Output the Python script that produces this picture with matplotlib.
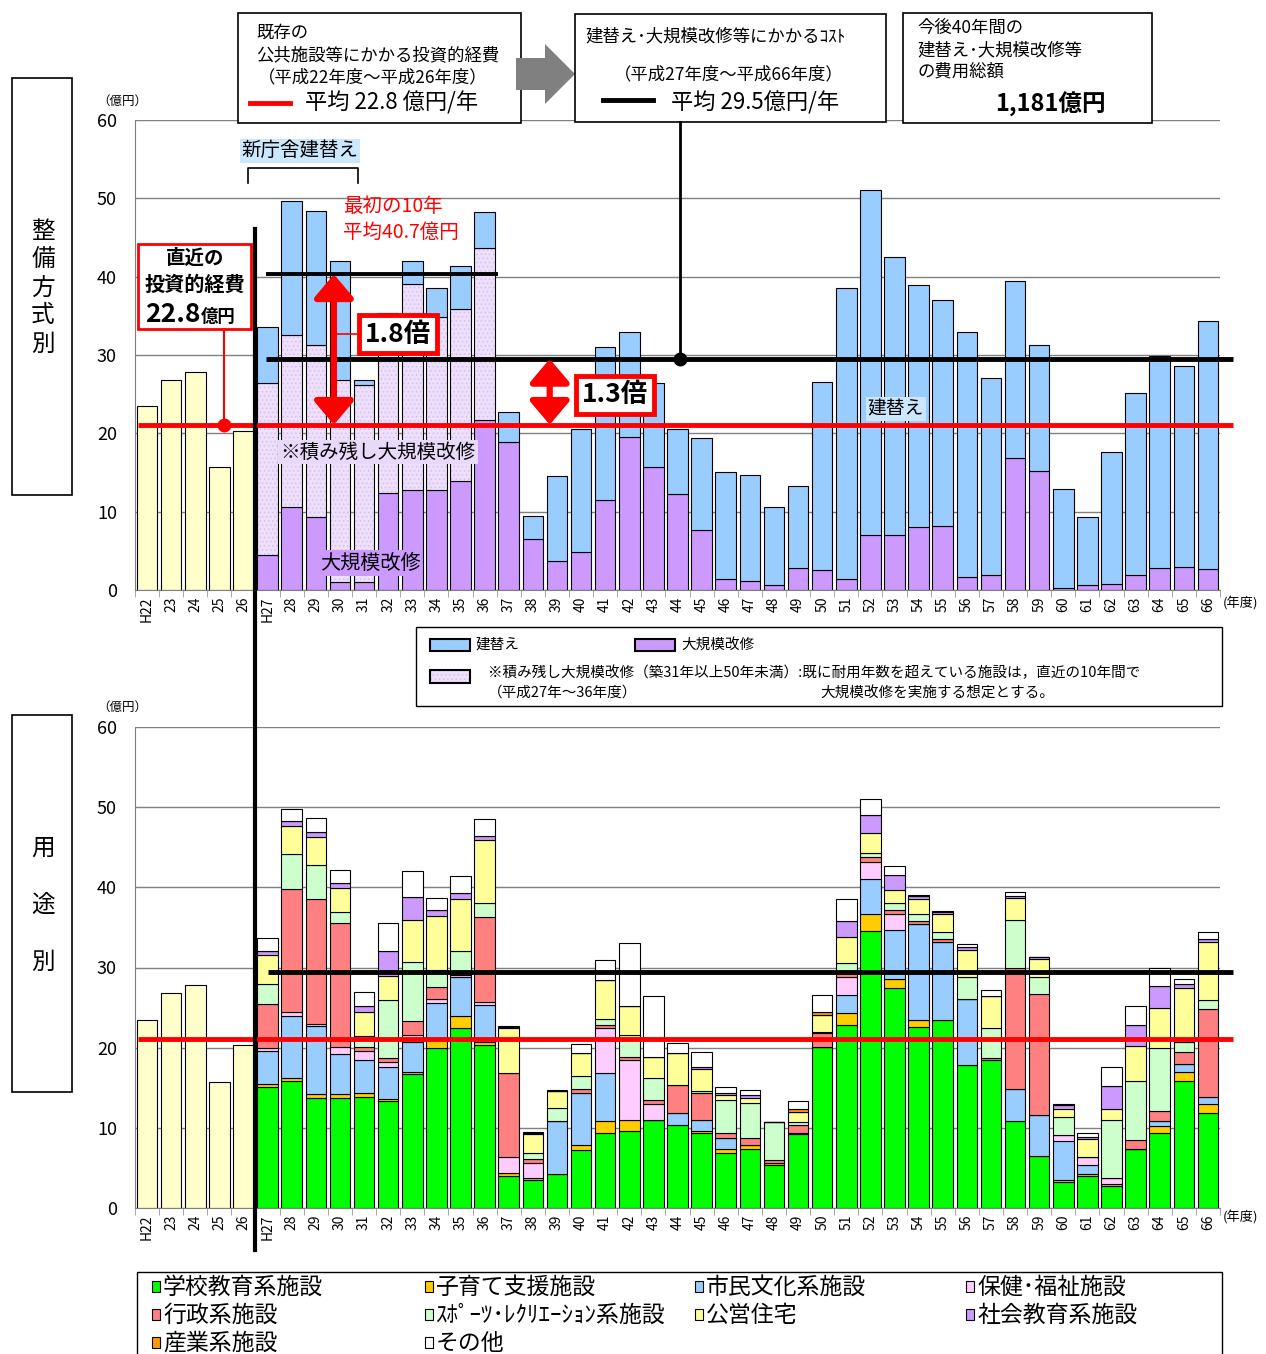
import numpy as np
import matplotlib.pyplot as plt
from matplotlib.patches import Rectangle, Polygon, FancyArrowPatch

plt.rcParams['font.family'] = ['Noto Sans CJK JP', 'DejaVu Sans']
plt.rcParams['hatch.linewidth'] = 0.6

W, H = 1266, 1354

# 年度ラベル
years = ['H22', '23', '24', '25', '26', 'H27'] + [str(n) for n in range(28, 67)]

# 既存の投資的経費 H22-H26 (億円)
past_cost = [23.5, 26.8, 27.8, 15.7, 20.3]

# 整備方式別 H27-H66 (億円)
oomr = [4.5, 10.6, 9.3, 1.0, 1.0, 12.4, 12.8, 12.8, 13.9, 21.7,
        18.9, 6.5, 3.7, 4.9, 11.5, 19.5, 15.7, 12.3, 7.6, 1.4,
        1.1, 0.6, 2.8, 2.6, 1.4, 7.0, 7.0, 8.0, 8.2, 1.6,
        1.9, 16.9, 15.2, 0.3, 0.6, 0.8, 1.9, 2.8, 2.9, 2.7]
zumi = [21.9, 22.0, 22.0, 25.8, 25.2, 22.7, 26.3, 22.0, 22.0, 21.9] + [0] * 30
tatekae = [7.2, 17.1, 17.1, 15.2, 0.6, 0.2, 2.9, 3.8, 5.4, 4.7,
           3.8, 2.9, 10.9, 15.7, 19.5, 13.5, 10.7, 8.3, 11.8, 13.7,
           13.6, 10.0, 10.5, 23.9, 37.1, 44.0, 35.5, 31.0, 28.8, 31.3,
           25.2, 22.5, 16.1, 12.6, 8.7, 16.8, 23.3, 27.1, 25.7, 31.7]

# 用途別 H27-H66 (億円)
school = [15.1, 15.8, 13.7, 13.7, 13.9, 13.3, 16.7, 20.0, 22.5, 20.3,
          4.0, 3.5, 4.3, 7.2, 9.4, 9.6, 11.0, 10.4, 9.4, 6.8,
          7.4, 5.4, 9.2, 20.1, 22.8, 34.5, 27.5, 22.6, 23.4, 17.8,
          18.5, 10.9, 6.5, 3.2, 4.0, 2.7, 7.3, 9.3, 15.8, 11.8]
kids = [0.4, 0.4, 0.5, 0.5, 0.5, 0.3, 0.3, 0.9, 1.4, 0.4,
        0.4, 0.2, 0, 0.6, 1.4, 1.4, 0, 0, 0.2, 0.5,
        0.5, 0.2, 0.2, 0, 1.5, 2.2, 1.1, 0.9, 0, 0,
        0.2, 0, 0, 0.3, 0.3, 0.25, 0, 0.9, 1.2, 1.2]
culture = [4.1, 7.7, 8.5, 5.0, 4.0, 4.0, 3.7, 4.7, 4.9, 4.6,
           0, 0, 6.5, 6.5, 6.1, 0, 0, 1.4, 1.4, 1.4,
           0, 0, 0, 0, 2.3, 4.3, 6.1, 11.9, 9.8, 8.3,
           0, 4.0, 5.1, 4.9, 1.1, 0, 0, 0.65, 1.0, 0.9]
welfare = [0.3, 0.5, 0.3, 0.9, 1.2, 0.6, 0.9, 0.5, 0.3, 0.4,
           1.9, 1.9, 0, 0, 5.5, 7.5, 2.0, 0, 0, 0,
           0, 0, 0, 0, 2.2, 2.2, 2.0, 0, 0, 0,
           0, 0, 0, 0.7, 0.9, 0.85, 0, 0, 0, 0]
admin = [5.6, 15.4, 15.5, 15.5, 0.5, 0.5, 1.7, 1.5, 0.2, 10.6,
         10.5, 0.5, 0, 0.5, 0.4, 0.3, 0.5, 3.5, 3.4, 0.6,
         0.8, 0.4, 1.0, 1.7, 0.5, 0.6, 0.5, 0.4, 0.3, 0,
         0, 15.1, 15.1, 0, 0, 0, 1.2, 1.25, 1.4, 10.9]
sports = [2.5, 4.3, 4.3, 1.3, 1.4, 7.3, 7.4, 2.1, 2.7, 1.8,
          0, 0.7, 1.7, 1.7, 0.8, 2.8, 2.7, 0, 0.2, 4.2,
          4.35, 4.7, 0.3, 0.1, 1.2, 0.5, 0.8, 0.9, 0.9, 2.7,
          3.8, 5.9, 2.1, 2.2, 0, 7.2, 7.3, 7.8, 1.3, 1.1]
housing = [3.5, 3.5, 3.5, 3.0, 2.9, 3.0, 5.2, 6.7, 6.5, 7.8,
           5.7, 2.4, 2.1, 2.8, 4.8, 3.6, 2.6, 4.0, 2.7, 0.6,
           0.65, 0, 1.3, 2.2, 3.3, 2.5, 1.7, 1.9, 2.3, 3.4,
           4.0, 2.8, 2.3, 1.1, 2.3, 1.3, 4.4, 5.0, 6.8, 7.3]
social = [0.6, 0.7, 0.6, 0.7, 0.8, 3.0, 2.9, 0.8, 0.8, 0.5,
          0.1, 0.1, 0, 0, 0, 0, 0, 0, 0.3, 0.3,
          0.35, 0, 0, 0, 2.0, 2.2, 1.9, 0.35, 0.25, 0.3,
          0, 0.2, 0.2, 0.4, 0.3, 2.9, 2.6, 2.8, 0.4, 0.3]
industry = [0, 0, 0, 0, 0, 0, 0, 0, 0, 0,
            0, 0.1, 0, 0, 0, 0, 0, 0, 0, 0,
            0, 0, 0.3, 0.4, 0, 0, 0, 0, 0, 0,
            0, 0, 0, 0, 0, 0, 0, 0, 0, 0]
other = [1.6, 1.5, 1.7, 1.6, 1.8, 3.5, 3.2, 1.5, 2.1, 2.1,
         0.1, 0.1, 0.1, 1.2, 2.5, 7.8, 7.7, 1.3, 1.8, 0.7,
         0.65, 0, 1.1, 2.1, 2.8, 2.0, 1.0, 0.15, 0.15, 0.4,
         0.7, 0.5, 0, 0.2, 0.4, 2.4, 2.4, 2.2, 0.7, 0.9]

use_names = ['学校教育系施設', '子育て支援施設', '市民文化系施設', '保健･福祉施設',
             '行政系施設', 'ｽﾎﾟｰﾂ･ﾚｸﾘｴｰｼｮﾝ系施設', '公営住宅', '社会教育系施設',
             '産業系施設', 'その他']
use_values = [school, kids, culture, welfare, admin, sports, housing, social, industry, other]
use_colors = ['#00FF00', '#FFCC00', '#99CCFF', '#FFCCFF', '#FF8080',
              '#CCFFCC', '#FFFF99', '#CC99FF', '#FF9900', '#FFFFFF']

red_line = 21.1      # 平均 22.8億円/年 の線
black_line = 29.5    # 平均 29.5億円/年
first10_line = 40.3  # 最初の10年 平均40.7億円

C_BLUE, C_PURP, C_LAV, C_PAST = '#99CCFF', '#CC99FF', '#EEDFFB', '#FFFFCC'
C_DOT = '#D6BDF2'

x = np.arange(45)
xf = x[5:]
w = 0.85

fig = plt.figure(figsize=(W / 100, H / 100), dpi=100)


def px_box(x0, y0, x1, y1):
    return [x0 / W, 1 - y1 / H, (x1 - x0) / W, (y1 - y0) / H]


ax1 = fig.add_axes(px_box(135, 120, 1220, 590))
ax2 = fig.add_axes(px_box(135, 727, 1220, 1208))


def style(ax):
    ax.set_xlim(-0.5, 44.5)
    ax.set_ylim(0, 60)
    ax.set_yticks(range(0, 61, 10))
    ax.tick_params(axis='y', length=0, pad=13, labelsize=13)
    ax.set_xticks(x)
    ax.set_xticklabels(years, rotation=90, fontsize=10)
    ax.tick_params(axis='x', which='major', length=0, pad=5)
    ax.set_xticks(np.arange(-0.5, 45, 1), minor=True)
    ax.tick_params(axis='x', which='minor', length=5, color='#999999')
    ax.grid(axis='y', color='#808080', lw=1)
    ax.set_axisbelow(True)
    for s in ['top', 'right']:
        ax.spines[s].set_visible(False)
    for s in ['left', 'bottom']:
        ax.spines[s].set_color('#808080')


# 上段: 整備方式別
style(ax1)
ax1.bar(x[:5], past_cost, w, color=C_PAST, edgecolor='black', lw=0.8)
ax1.bar(xf, oomr, w, color=C_PURP, edgecolor='black', lw=0.8)
ax1.bar(xf[:10], zumi[:10], w, bottom=oomr[:10], color=C_LAV, edgecolor=C_DOT, lw=0, hatch='....')
ax1.bar(xf[:10], zumi[:10], w, bottom=oomr[:10], fill=False, edgecolor='black', lw=0.8)
ax1.bar(xf, tatekae, w, bottom=np.add(oomr, zumi), color=C_BLUE, edgecolor='black', lw=0.8)

ax1.hlines(red_line, -0.375, 45.05, color='red', lw=3.5, clip_on=False, zorder=4)
ax1.hlines(black_line, 4.95, 45.05, color='black', lw=3.5, clip_on=False, zorder=4)
ax1.hlines(first10_line, 4.95, 14.55, color='black', lw=2.8, zorder=4)
ax1.plot(3.19, red_line, 'o', color='red', ms=9, zorder=5)
ax1.plot(22.1, black_line, 'o', color='black', ms=9, zorder=5)

for xa, y0, y1 in [(7.75, red_line, first10_line), (16.7, red_line, black_line)]:
    ax1.add_patch(FancyArrowPatch((xa, y0), (xa, y1), arrowstyle='<|-|>,head_length=1.3,head_width=1.1',
                                  mutation_scale=11, color='red', lw=4.5, shrinkA=0, shrinkB=0, zorder=6))

# 下段: 用途別
style(ax2)
ax2.bar(x[:5], past_cost, w, color=C_PAST, edgecolor='black', lw=0.8)
bottom = np.zeros(40)
for vals, col in zip(use_values, use_colors):
    ax2.bar(xf, vals, w, bottom=bottom, color=col, edgecolor='black', lw=0.8)
    bottom += np.array(vals)
ax2.hlines(red_line, -0.375, 45.05, color='red', lw=3.5, clip_on=False, zorder=4)
ax2.hlines(black_line, 5.0, 45.05, color='black', lw=3.5, clip_on=False, zorder=4)

# 注記用の全体レイヤー (ピクセル座標)
ov = fig.add_axes([0, 0, 1, 1], zorder=10)
ov.set_xlim(0, W)
ov.set_ylim(H, 0)
ov.axis('off')
ov.patch.set_alpha(0)


def box(x0, y0, x1, y1, ec='black', lw=1.2, fc='white'):
    ov.add_patch(Rectangle((x0, y0), x1 - x0, y1 - y0, fc=fc, ec=ec, lw=lw))


# 左の見出し
box(12, 78, 72, 495)
for i, ch in enumerate('整備方式別'):
    ov.text(43, 232 + i * 28, ch, ha='center', va='center', fontsize=17)
box(12, 715, 72, 1092)
for i, ch in enumerate('用途別'):
    ov.text(43, 848 + i * 57, ch, ha='center', va='center', fontsize=17)

for yy in (101, 707):
    ov.text(122, yy, '（億円）', ha='center', va='center', fontsize=9)
for yy in (603, 1218):
    ov.text(1223, yy, '(年度)', ha='left', va='center', fontsize=9.5)

# 上部の3つの枠
box(238, 13, 521, 123)
ov.text(256, 33, '既存の', va='center', fontsize=12.5)
ov.text(256, 55, '公共施設等にかかる投資的経費', va='center', fontsize=12.5)
ov.text(258, 77, '（平成22年度～平成26年度）', va='center', fontsize=12.5)
ov.plot([250, 290], [103, 103], color='red', lw=3.5)
ov.text(305, 103, '平均 22.8 億円/年', va='center', fontsize=16)

ov.add_patch(Polygon([(516, 58), (545, 58), (545, 44), (575, 74), (545, 104), (545, 90), (516, 90)],
                     closed=True, fc='#808080', ec='none'))

box(575, 14, 886, 122)
ov.text(585, 36, '建替え･大規模改修等にかかるｺｽﾄ', va='center', fontsize=12.5)
ov.text(614, 74, '（平成27年度～平成66年度）', va='center', fontsize=12.5)
ov.plot([603, 653], [100, 100], color='black', lw=3.5)
ov.text(671, 103, '平均 29.5億円/年', va='center', fontsize=16)
ov.plot([680, 680], [122, 357], color='black', lw=2)

box(903, 13, 1152, 123)
ov.text(917, 28, '今後40年間の', va='center', fontsize=12.5)
ov.text(917, 50, '建替え･大規模改修等', va='center', fontsize=12.5)
ov.text(917, 72, 'の費用総額', va='center', fontsize=12.5)
ov.text(1050, 104, '1,181億円', ha='center', va='center', fontsize=17, fontweight='bold')

# 縦の区切り線
ov.plot([255, 255], [229, 1250], color='black', lw=3)

# 新庁舎建替え
ov.text(300, 151, '新庁舎建替え', ha='center', va='center', fontsize=14,
        bbox=dict(boxstyle='square,pad=0.1', fc='#CCE8FF', ec='none'))
ov.plot([248, 248, 358, 358], [183, 168, 168, 183], color='black', lw=1.2)

ov.text(343, 207, '最初の10年', va='center', fontsize=14, color='red')
ov.text(343, 232, '平均40.7億円', va='center', fontsize=14, color='red')

# 直近の投資的経費
box(138, 244, 251, 329, ec='red', lw=2)
ov.text(195, 258, '直近の', ha='center', va='center', fontsize=14, fontweight='bold')
ov.text(195, 284, '投資的経費', ha='center', va='center', fontsize=14.5, fontweight='bold')
ov.text(201, 322, '22.8', ha='right', va='baseline', fontsize=19, fontweight='bold')
ov.text(201, 322, '億円', ha='left', va='baseline', fontsize=12.5, fontweight='bold')
ov.plot([224, 224], [329, 420], color='red', lw=1.5)

# 倍率
ov.plot([334, 360], [334, 334], color='red', lw=1.2)
ov.text(398, 334, '1.8倍', ha='center', va='center', fontsize=19, fontweight='bold',
        bbox=dict(boxstyle='square,pad=0.22', fc='white', ec='red', lw=3.5))
ov.text(615, 395, '1.3倍', ha='center', va='center', fontsize=19, fontweight='bold',
        bbox=dict(boxstyle='square,pad=0.22', fc='white', ec='red', lw=3.5))

ov.text(378, 452, '※積み残し大規模改修', ha='center', va='center', fontsize=14,
        bbox=dict(boxstyle='square,pad=0.1', fc='#E8D8FA', ec='none'))
ov.text(370, 563, '大規模改修', ha='center', va='center', fontsize=14.5,
        bbox=dict(boxstyle='square,pad=0.1', fc=C_PURP, ec='none'))
ov.text(896, 409, '建替え', ha='center', va='center', fontsize=13.5,
        bbox=dict(boxstyle='square,pad=0.1', fc='#CCE6FF', ec='none'))

# 上段の凡例
box(416, 627, 1222, 706, lw=1)
ov.add_patch(Rectangle((430, 639), 40, 12, fc=C_BLUE, ec='black', lw=1.5))
ov.text(476, 645, '建替え', va='center', fontsize=10.5)
ov.add_patch(Rectangle((635, 639), 40, 12, fc=C_PURP, ec='black', lw=1.5))
ov.text(681, 645, '大規模改修', va='center', fontsize=10.5)
ov.add_patch(Rectangle((430, 670), 40, 13, fc=C_LAV, ec=C_DOT, lw=0, hatch='....'))
ov.add_patch(Rectangle((430, 670), 40, 13, fill=False, ec='black', lw=1.5))
ov.text(488, 673, '※積み残し大規模改修（築31年以上50年未満）:既に耐用年数を超えている施設は，直近の10年間で',
        va='center', fontsize=10.5)
ov.text(488, 693, '（平成27年～36年度）', va='center', fontsize=10.5)
ov.text(820, 693, '大規模改修を実施する想定とする。', va='center', fontsize=10.5)

# 下段の凡例
box(137, 1272, 1222, 1380, lw=1)
col_x = [152, 425, 695, 966]
row_y = [1287, 1315, 1343]
for i, (name, col) in enumerate(zip(use_names, use_colors)):
    cx = col_x[i % 4]
    cy = row_y[i // 4]
    ov.add_patch(Rectangle((cx, cy - 6), 8, 11, fc=col, ec='black', lw=0.8))
    ov.text(cx + 11, cy, name, va='center', fontsize=16.5)

fig.savefig('out.png', dpi=100)
